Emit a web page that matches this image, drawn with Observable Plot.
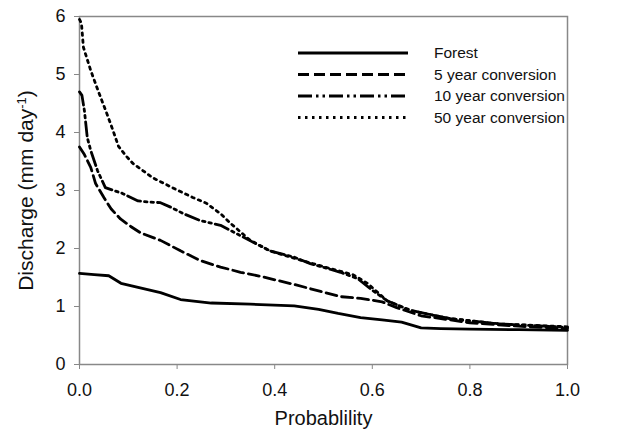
<!DOCTYPE html>
<html><head><meta charset="utf-8">
<script src="https://cdn.jsdelivr.net/npm/d3@7"></script>
<script src="https://cdn.jsdelivr.net/npm/@observablehq/plot@0.6"></script>
<style>
body{margin:0;background:#fff;}
#wrap{position:relative;width:619px;height:443px;}
#legend{position:absolute;left:0;top:0;pointer-events:none;}
</style>
</head><body><div id="wrap"></div>
<script>
const seriesNames = ["Forest", "5 year conversion", "10 year conversion", "50 year conversion"];

const forestP = [0, 0.03, 0.06, 0.085, 0.12, 0.166, 0.207, 0.27, 0.35, 0.44, 0.49, 0.53, 0.576, 0.62, 0.66, 0.70, 0.74, 0.8, 0.9, 1.0];
const forestQ = [1.57, 1.55, 1.53, 1.40, 1.33, 1.24, 1.12, 1.06, 1.04, 1.01, 0.95, 0.88, 0.81, 0.77, 0.73, 0.63, 0.62, 0.61, 0.60, 0.59];

const yr5P = [0, 0.01, 0.023, 0.033, 0.05, 0.065, 0.084, 0.105, 0.125, 0.166, 0.207, 0.248, 0.289, 0.33, 0.371, 0.44, 0.494, 0.535, 0.576, 0.62, 0.65, 0.7, 0.8, 0.9, 1.0];
const yr5Q = [3.75, 3.62, 3.40, 3.12, 2.88, 2.68, 2.51, 2.38, 2.27, 2.14, 1.96, 1.79, 1.68, 1.59, 1.52, 1.38, 1.26, 1.17, 1.14, 1.08, 0.98, 0.84, 0.72, 0.66, 0.62];

const yr10P = [0, 0.005, 0.01, 0.016, 0.023, 0.037, 0.053, 0.07, 0.088, 0.12, 0.145, 0.166, 0.19, 0.213, 0.248, 0.289, 0.33, 0.39, 0.44, 0.473, 0.535, 0.57, 0.6, 0.63, 0.68, 0.76, 0.86, 1.0];
const yr10Q = [4.70, 4.64, 4.38, 3.91, 3.69, 3.34, 3.05, 3.00, 2.95, 2.82, 2.80, 2.79, 2.70, 2.60, 2.48, 2.40, 2.22, 1.96, 1.85, 1.74, 1.59, 1.48, 1.28, 1.10, 0.93, 0.79, 0.70, 0.64];

const yr50P = [0, 0.004, 0.008, 0.023, 0.039, 0.055, 0.068, 0.08, 0.095, 0.109, 0.15, 0.19, 0.232, 0.26, 0.289, 0.31, 0.35, 0.39, 0.453, 0.52, 0.56, 0.59, 0.63, 0.678, 0.76, 0.86, 1.0];
const yr50Q = [5.95, 5.88, 5.47, 5.07, 4.70, 4.35, 4.05, 3.76, 3.60, 3.47, 3.22, 3.05, 2.88, 2.78, 2.60, 2.43, 2.14, 1.96, 1.80, 1.64, 1.55, 1.40, 1.10, 0.93, 0.79, 0.70, 0.65];

const xTicks = [0, 0.2, 0.4, 0.6, 0.8, 1.0];
const yTicks = [0, 1, 2, 3, 4, 5, 6];

const seriesP = [forestP, yr5P, yr10P, yr50P];
const seriesQ = [forestQ, yr5Q, yr10Q, yr50Q];
const dashes = [null, "11,5", "14,4,2.5,4,2.5,4", "2.5,4.5"];

const rows = seriesNames.map((name, i) => seriesP[i].map((p, j) => ({series: name, p, q: seriesQ[i][j]})));

const font = "'Liberation Sans', Arial, sans-serif";

const chart = Plot.plot({
  width: 619, height: 443,
  marginLeft: 79, marginRight: 52, marginTop: 16, marginBottom: 79,
  x: {domain: [0, 1]},
  y: {domain: [0, 6]},
  style: {fontFamily: font, fontSize: "18px", color: "#111", background: "#fff", overflow: "visible"},
  marks: [
    Plot.frame({stroke: "#888", strokeWidth: 1.5}),
    ...rows.map((data, i) => Plot.line(data, {
      x: "p", y: "q", stroke: "#000", strokeWidth: 2.8,
      strokeDasharray: dashes[i] ?? undefined, curve: "linear"
    })),
    Plot.axisX({ticks: xTicks, tickFormat: d3.format(".1f"), tickSize: 5, tickPadding: 14,
      stroke: "#888", fill: "#111", fontSize: 18,
      label: "Probablility", labelAnchor: "center", labelOffset: 60, labelArrow: "none"}),
    Plot.axisY({ticks: yTicks, tickFormat: d3.format("d"), tickSize: 5, tickPadding: 9,
      stroke: "#888", fill: "#111", fontSize: 18,
      label: "Discharge (mm day-1)", labelAnchor: "center", labelOffset: 61, labelArrow: "none"})
  ]
});

const wrap = document.getElementById("wrap");
wrap.appendChild(chart);

// Axis-label sizes and superscript on the y label
const svg = d3.select(chart);
svg.selectAll("g[aria-label='x-axis label'] text").style("font-size", "20px");
svg.selectAll("g[aria-label='y-axis label'] text").each(function() {
  const t = d3.select(this);
  t.style("font-size", "21px").text(null);
  t.append("tspan").text("Discharge (mm day");
  t.append("tspan").attr("baseline-shift", "super").style("font-size", "13px").text("-1");
  t.append("tspan").text(")");
});

// Legend (overlay)
const lg = d3.select(wrap).append("svg").attr("id", "legend").attr("width", 619).attr("height", 443);
seriesNames.forEach((name, i) => {
  const yy = 53 + i * 21.5;
  lg.append("line").attr("x1", 298).attr("x2", 408).attr("y1", yy).attr("y2", yy)
    .attr("stroke", "#000").attr("stroke-width", 3)
    .attr("stroke-dasharray", dashes[i]);
  lg.append("text").attr("x", 434).attr("y", yy).attr("dy", "0.35em")
    .style("font-family", font).style("font-size", "15.5px").attr("fill", "#111").text(name);
});
</script>
</body></html>
